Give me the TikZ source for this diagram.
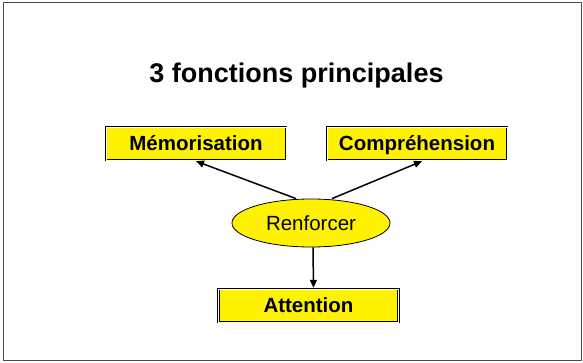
\documentclass[tikz,border=0pt]{standalone}
\usepackage{fontspec}
\setmainfont{Liberation Sans}
\usetikzlibrary{shapes.geometric,arrows.meta}
\begin{document}
\begin{tikzpicture}[x=1pt,y=-1pt,
    boite/.style={rectangle, fill=yellow, draw=black, double=white, line width=0.6pt, double distance=0.9pt,
      minimum width=180pt, minimum height=33pt, inner sep=0pt, outer sep=1.2pt,
      font=\fontsize{20.5}{24}\selectfont\bfseries, text height=14.7pt, text depth=0pt},
    bulle/.style={ellipse, fill=yellow, draw=black, line width=0.8pt,
      minimum width=158pt, minimum height=48pt, inner sep=0pt,
      font=\fontsize{20.5}{24}\selectfont, text height=14.7pt, text depth=0pt},
    fleche/.style={-{Triangle[length=8pt,width=7pt]}, line width=1.5pt}]
      \useasboundingbox (0,0) rectangle (583,363);
      % Cadre
      \draw[line width=1pt, black!70] (3,3) rectangle (581,360);

      % Titre
      \node[anchor=base, font=\fontsize{27}{32}\selectfont\bfseries] (titre) at (296.5,83) {3 fonctions principales};

      % Fonctions
      \node[boite] (M) at (196,143.5) {Mémorisation};
      \node[boite] (C) at (417,143.5) {Compréhension};
      \node[bulle] (R) at (311,223) {Renforcer};
      \node[boite] (A) at (308.5,305.5) {Attention};

      % Fleches
      \draw[fleche] ([xshift=-15pt]R.north) -- (M.south);
      \draw[fleche] ([xshift=21pt]R.north) -- ([xshift=5pt]C.south);
      \draw[fleche] ([xshift=2pt]R.south) -- ([xshift=5pt]A.north);

    \end{tikzpicture}
\end{document}
